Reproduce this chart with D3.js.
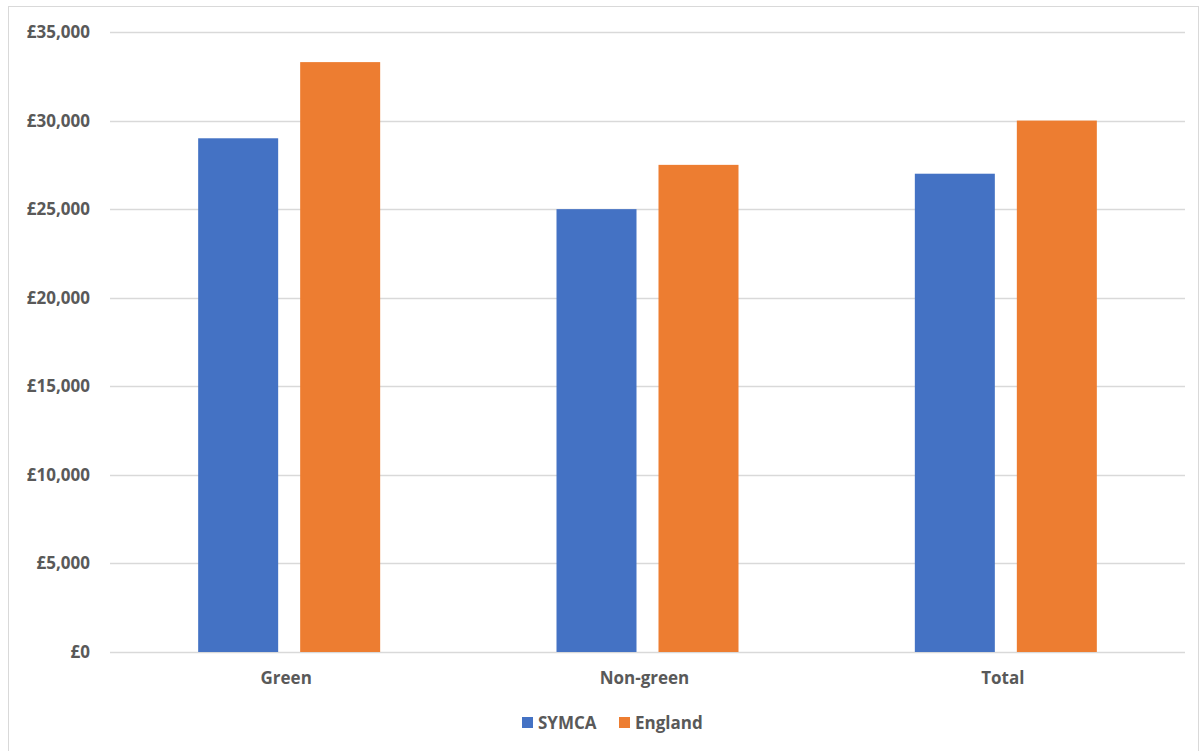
<!DOCTYPE html>
<html><head><meta charset="utf-8">
<script src="https://cdn.jsdelivr.net/npm/d3@7"></script>
<style>body{margin:0;background:#fff}text{font-family:"Open Sans","Liberation Sans",sans-serif;font-weight:bold;fill:#595959}</style>
</head><body><svg id="c" width="1203" height="751"></svg>
<script>
const categories = ["Green", "Non-green", "Total"];
const seriesNames = ["SYMCA", "England"];
const symca = [29000, 25000, 27000];
const england = [33300, 27500, 30000];
const colors = ["#4472C4", "#ED7D31"];
const yTicks = [0, 5000, 10000, 15000, 20000, 25000, 30000, 35000];

(function(){
const svg = d3.select("#c");
svg.append("rect").attr("x",8.5).attr("y",6.5).attr("width",1190).attr("height",750).attr("fill","#fff").attr("stroke","#d9d9d9");

const pL=110, pR=1185, pT=32, pB=652;
const x = d3.scaleBand().domain(categories).range([pL,pR]);
const y = d3.scaleLinear().domain([0,35000]).range([pB,pT]);
const xs = d3.scaleBand().domain(seriesNames).range([0,182]).paddingInner(22/102);

const fmt = v => "£" + d3.format(",")(v);
const g = svg.append("g");
g.selectAll("line.grid").data(yTicks).join("line")
  .attr("x1",pL).attr("x2",pR).attr("y1",d=>Math.round(y(d))+0.5).attr("y2",d=>Math.round(y(d))+0.5)
  .attr("stroke","#d9d9d9").attr("stroke-width",1.5);
g.selectAll("text.yl").data(yTicks).join("text").attr("class","yl")
  .attr("x",90).attr("y",d=>y(d)).attr("dy","0.35em").attr("text-anchor","end")
  .attr("font-size",17).text(fmt);

const data = [symca, england];
data.forEach((vals,si)=>{
  g.selectAll("rect.s"+si).data(categories).join("rect").attr("class","s"+si)
    .attr("x",(c)=>x(c)+x.bandwidth()/2-91+xs(seriesNames[si]))
    .attr("width",xs.bandwidth())
    .attr("y",(c,i)=>y(vals[i]))
    .attr("height",(c,i)=>pB-y(vals[i]))
    .attr("fill",colors[si]);
});
g.selectAll("text.xl").data(categories).join("text").attr("class","xl")
  .attr("x",c=>x(c)+x.bandwidth()/2-3).attr("y",678).attr("dy","0.35em").attr("text-anchor","middle")
  .attr("font-size",17).text(d=>d);

const lg = svg.append("g");
const legX=[522,619];
seriesNames.forEach((s,i)=>{
  lg.append("rect").attr("x",legX[i]).attr("y",717).attr("width",11).attr("height",11).attr("fill",colors[i]);
  lg.append("text").attr("x",legX[i]+16).attr("y",723).attr("dy","0.35em").attr("font-size",17).text(s);
});
})();
</script></body></html>
